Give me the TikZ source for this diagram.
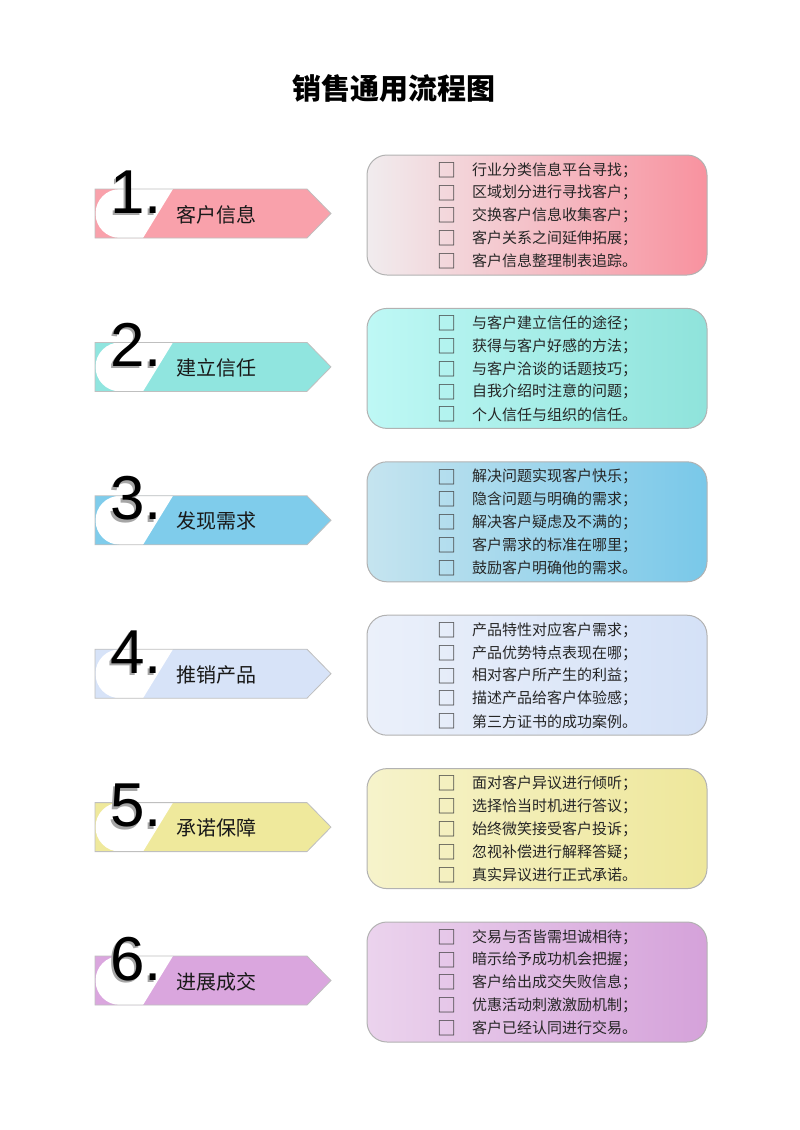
\documentclass[tikz,border=0pt]{standalone}
\usepackage{fontspec}
\setmainfont{Noto Sans CJK SC}
\newfontfamily\digitfont{Liberation Sans}
\definecolor{bn1}{HTML}{F9A1AB}\definecolor{lf1}{HTML}{F1ECEE}\definecolor{rt1}{HTML}{F8929F}
\definecolor{bn2}{HTML}{90E5DF}\definecolor{lf2}{HTML}{BEF8F5}\definecolor{rt2}{HTML}{8FE3DB}
\definecolor{bn3}{HTML}{7FCCEB}\definecolor{lf3}{HTML}{C5E4EF}\definecolor{rt3}{HTML}{79C8E9}
\definecolor{bn4}{HTML}{D7E3F8}\definecolor{lf4}{HTML}{EBF0FA}\definecolor{rt4}{HTML}{D4E1F7}
\definecolor{bn5}{HTML}{EFE99C}\definecolor{lf5}{HTML}{F6F3CB}\definecolor{rt5}{HTML}{EEE79B}
\definecolor{bn6}{HTML}{DAA6DE}\definecolor{lf6}{HTML}{EBD3ED}\definecolor{rt6}{HTML}{D5A2DA}
\tikzset{
 bannerline/.style={draw=black!25, line width=0.8pt},
 boxline/.style={draw=black!30, line width=1pt},
 digitstyle/.style={font=\digitfont\fontsize{62}{62}\selectfont, inner sep=0pt, anchor=base west},
 labelstyle/.style={font=\fontsize{20}{20}\selectfont, inner sep=0pt, anchor=west, text=black!90},
 itemstyle/.style={font=\fontsize{15}{15}\selectfont, inner sep=0pt, anchor=west, text=black!85},
 checkstyle/.style={font=\fontsize{19}{19}\selectfont, inner sep=0pt, anchor=center, text=black!75},
 titlestyle/.style={font=\bfseries\fontsize{29}{29}\selectfont, inner sep=0pt},
}
\newcommand\salesrow[8]{%
 \pgfmathsetmacro\cy{213+153.4*(#1-1)}%
 \fill[bn#3] (95,\cy-24) -- (307,\cy-24) -- (331,\cy+0.5) -- (307,\cy+25) -- (95,\cy+25) -- cycle;
 \fill[white] (120,\cy+0.5) circle (24.5);
 \fill[white] (120,\cy-24) -- (173,\cy-24) -- (143,\cy+25) -- (120,\cy+25) -- cycle;
 \draw[bannerline] (95,\cy-24) -- (307,\cy-24) -- (331,\cy+0.5) -- (307,\cy+25) -- (95,\cy+25) -- cycle;
 \node[digitstyle, text=black!35] (dsh#1) at (108,\cy+2.5) {#1.};
 \node[digitstyle] (dig#1) at (110,\cy) {#1.};
 \node[labelstyle] (lab#1) at (176,\cy+1.5) {#2};
 \shade[left color=lf#3, right color=rt#3, rounded corners=20] (367,\cy-58) rectangle (707,\cy+62);
 \draw[boxline, rounded corners=20] (367,\cy-58) rectangle (707,\cy+62);
 \foreach \t [count=\i] in {#4,#5,#6,#7,#8}{
  \pgfmathsetmacro\ly{\cy-43+22.8*(\i-1)}
  \node[checkstyle] (cb#1-\i) at (447,\ly) {□};
  \node[itemstyle] (it#1-\i) at (472,\ly) {\t};
 }
}
\begin{document}
\begin{tikzpicture}[x=1pt,y=-1pt]
\useasboundingbox (0,0) rectangle (800,1130);
\node[titlestyle] (title) at (393.5,88) {销售通用流程图};
\salesrow{1}{客户信息}{1}{行业分类信息平台寻找；}{区域划分进行寻找客户；}{交换客户信息收集客户；}{客户关系之间延伸拓展；}{客户信息整理制表追踪。}
\salesrow{2}{建立信任}{2}{与客户建立信任的途径；}{获得与客户好感的方法；}{与客户洽谈的话题技巧；}{自我介绍时注意的问题；}{个人信任与组织的信任。}
\salesrow{3}{发现需求}{3}{解决问题实现客户快乐；}{隐含问题与明确的需求；}{解决客户疑虑及不满的；}{客户需求的标准在哪里；}{鼓励客户明确他的需求。}
\salesrow{4}{推销产品}{4}{产品特性对应客户需求；}{产品优势特点表现在哪；}{相对客户所产生的利益；}{描述产品给客户体验感；}{第三方证书的成功案例。}
\salesrow{5}{承诺保障}{5}{面对客户异议进行倾听；}{选择恰当时机进行答议；}{始终微笑接受客户投诉；}{忽视补偿进行解释答疑；}{真实异议进行正式承诺。}
\salesrow{6}{进展成交}{6}{交易与否皆需坦诚相待；}{暗示给予成功机会把握；}{客户给出成交失败信息；}{优惠活动刺激激励机制；}{客户已经认同进行交易。}
\end{tikzpicture}
\end{document}
